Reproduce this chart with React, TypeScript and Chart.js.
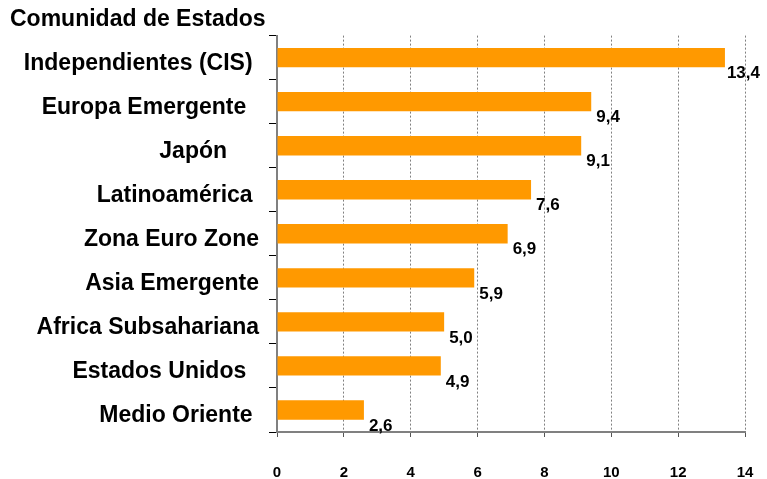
import React, { useEffect, useRef } from 'react';
import { Chart, registerables } from 'chart.js';

Chart.register(...registerables);

const FONT = '"Liberation Sans", Arial, Helvetica, sans-serif';

const titleLine = 'Comunidad de Estados';
const categories = [
  'Independientes (CIS) ',
  'Europa Emergente  ',
  'Japón     ',
  'Latinoamérica ',
  'Zona Euro Zone',
  'Asia Emergente',
  'Africa Subsahariana',
  'Estados Unidos  ',
  'Medio Oriente ',
];
const values = [13.4, 9.4, 9.1, 7.6, 6.9, 5.9, 5.0, 4.9, 2.6];
const xMin = 0;
const xMax = 14;
const xStep = 2;

const valueLabels = {
  id: 'valueLabels',
  afterDatasetsDraw(chart: any) {
    const ctx = chart.ctx;
    const meta = chart.getDatasetMeta(0);
    ctx.save();
    ctx.font = `bold 17px ${FONT}`;
    ctx.fillStyle = '#000';
    ctx.textBaseline = 'middle';
    ctx.textAlign = 'left';
    const limit = chart.chartArea.right + 15;
    meta.data.forEach((bar: any, i: number) => {
      const text = values[i].toFixed(1).replace('.', ',');
      const w = ctx.measureText(text).width;
      let x = bar.x + 5;
      if (x + w > limit) x = limit - w;
      ctx.fillText(text, x, bar.y + 16);
    });
    ctx.restore();
  },
};

export default function App() {
  const ref = useRef<HTMLCanvasElement | null>(null);

  useEffect(() => {
    if (!ref.current) return;
    Chart.defaults.font.family = FONT;
    const chart = new Chart(ref.current, {
      type: 'bar',
      data: {
        labels: categories,
        datasets: [
          {
            data: values,
            backgroundColor: '#FF9900',
            borderWidth: 0,
            categoryPercentage: 1,
            barPercentage: 0.44,
          },
        ],
      },
      options: {
        indexAxis: 'y',
        animation: false,
        responsive: true,
        maintainAspectRatio: false,
        layout: { padding: { left: 10, right: 22, top: 0, bottom: 0 } },
        plugins: {
          legend: { display: false },
          tooltip: { enabled: false },
          title: {
            display: true,
            text: titleLine,
            align: 'start',
            color: '#000',
            font: { family: FONT, size: 23, weight: 'bold' },
            padding: { top: 6, bottom: 2 },
          },
        },
        scales: {
          x: {
            type: 'linear',
            min: xMin,
            max: xMax,
            ticks: {
              stepSize: xStep,
              color: '#000',
              font: { family: FONT, size: 15, weight: 'bold' },
              padding: 27,
            },
            grid: {
              color: '#808080',
              lineWidth: 1,
              tickLength: 5,
              tickColor: '#555',
              tickBorderDash: [],
            },
            border: { color: '#808080', width: 2, dash: [2, 2] },
            afterFit(scale: any) {
              scale.height = 47;
              scale.paddingRight = 0;
              scale.paddingLeft = 0;
            },
          },
          y: {
            type: 'category',
            grid: {
              drawOnChartArea: false,
              offset: true,
              tickLength: 8,
              tickColor: '#000',
            },
            border: { color: '#808080', width: 2 },
            ticks: {
              color: '#000',
              font: { family: FONT, size: 23, weight: 'bold' },
              padding: 10,
              labelOffset: 6,
            },
            afterFit(scale: any) {
              scale.width = 267;
            },
          },
        },
      },
      plugins: [valueLabels],
    });
    return () => chart.destroy();
  }, []);

  return (
    <div style={{ position: 'fixed', left: 0, top: 0, width: 767, height: 479 }}>
      <canvas ref={ref} />
    </div>
  );
}
